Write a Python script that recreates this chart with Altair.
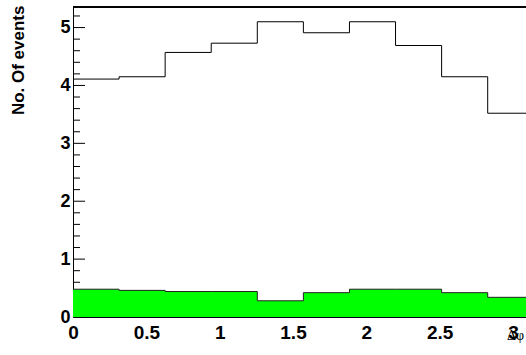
import math
import altair as alt
import pandas as pd

# ---- data ----
n_bins = 10
x_full = math.pi
top_counts = [4.11, 4.15, 4.57, 4.73, 5.10, 4.91, 5.10, 4.69, 4.15, 3.52]
green_counts = [0.48, 0.46, 0.44, 0.44, 0.28, 0.42, 0.48, 0.48, 0.42, 0.34]
x_tick_values = [0, 0.5, 1, 1.5, 2, 2.5, 3]
y_major_ticks = [0, 1, 2, 3, 4, 5]
y_minor_ticks = [round(0.2 * i, 1) for i in range(27) if i % 5 != 0]
y_max = 5.355
x_visible = 3.0886   # the reference is cut off by the window at this x
x_title = "Δφ"
y_title = "No. Of events"

edges = [i * x_full / n_bins for i in range(n_bins + 1)]
hist = pd.DataFrame({
    "x": edges,
    "top": top_counts + [top_counts[-1]],
    "green": green_counts + [green_counts[-1]],
})
major_df = pd.DataFrame({"t": y_major_ticks})
minor_df = pd.DataFrame({"t": y_minor_ticks})
title_df = pd.DataFrame({"label": [x_title]})

W, H = 453, 310

xscale = alt.Scale(domain=[0, x_visible], nice=False, zero=False)
yscale = alt.Scale(domain=[0, y_max], nice=False, zero=False)

x_axis = alt.Axis(
    values=x_tick_values, format="~g", tickSize=0, grid=False,
    labelFont="Liberation Sans", labelFontWeight="bold", labelFontSize=19,
    labelColor="black", labelPadding=6, labelFlush=False, labelOverlap=False,
    domainColor="#000022", domainWidth=1, title=None,
)
y_axis = alt.Axis(
    values=y_major_ticks, tickSize=0, grid=False,
    labelFont="Liberation Sans", labelFontWeight="bold", labelFontSize=18,
    labelColor="black", labelPadding=3, labelOverlap=False, labelFlush=False,
    domainColor="black", domainWidth=1,
    title=y_title, titleFont="Liberation Sans", titleFontWeight="bold",
    titleFontSize=17, titleColor="black", titleAngle=270, titleAlign="right",
    titleBaseline="alphabetic", titleX=-50, titleY=-2,
)

major = alt.Chart(major_df).mark_rule(color="black", strokeWidth=1).encode(
    y=alt.Y("t:Q", scale=yscale, axis=y_axis),
    x=alt.value(0), x2=alt.value(12),
)
minor = alt.Chart(minor_df).mark_rule(color="black", strokeWidth=1).encode(
    y=alt.Y("t:Q", scale=yscale, axis=y_axis),
    x=alt.value(0), x2=alt.value(7),
)

base = alt.Chart(hist)
green_area = base.mark_area(interpolate="step-after", color="#00ff00", opacity=1, clip=True).encode(
    x=alt.X("x:Q", scale=xscale, axis=x_axis),
    y=alt.Y("green:Q", scale=yscale, axis=y_axis),
)
green_line = base.mark_line(interpolate="step-after", color="#222222", strokeWidth=1, clip=True).encode(
    x=alt.X("x:Q", scale=xscale, axis=x_axis),
    y=alt.Y("green:Q", scale=yscale, axis=y_axis),
)
top_line = base.mark_line(interpolate="step-after", color="black", strokeWidth=1, clip=True).encode(
    x=alt.X("x:Q", scale=xscale, axis=x_axis),
    y=alt.Y("top:Q", scale=yscale, axis=y_axis),
)
frame_top = alt.Chart(major_df).mark_rule(color="black", strokeWidth=1).encode(
    y=alt.value(0), x=alt.value(0), x2=alt.value(W),
)
x_title_mark = alt.Chart(title_df).mark_text(
    align="left", baseline="alphabetic", font="Liberation Serif",
    fontSize=14, color="black",
).encode(text="label:N", x=alt.value(434), y=alt.value(333))

chart = alt.layer(major, minor, green_area, green_line, top_line, frame_top,
                  x_title_mark).properties(
    width=W, height=H,
    padding={"left": 73, "top": 7, "right": 0, "bottom": 38},
    autosize=alt.AutoSizeParams(type="none"),
    background="white",
).configure_view(strokeWidth=0)

chart.save("out.html", embed_options={"renderer": "svg", "actions": False})
